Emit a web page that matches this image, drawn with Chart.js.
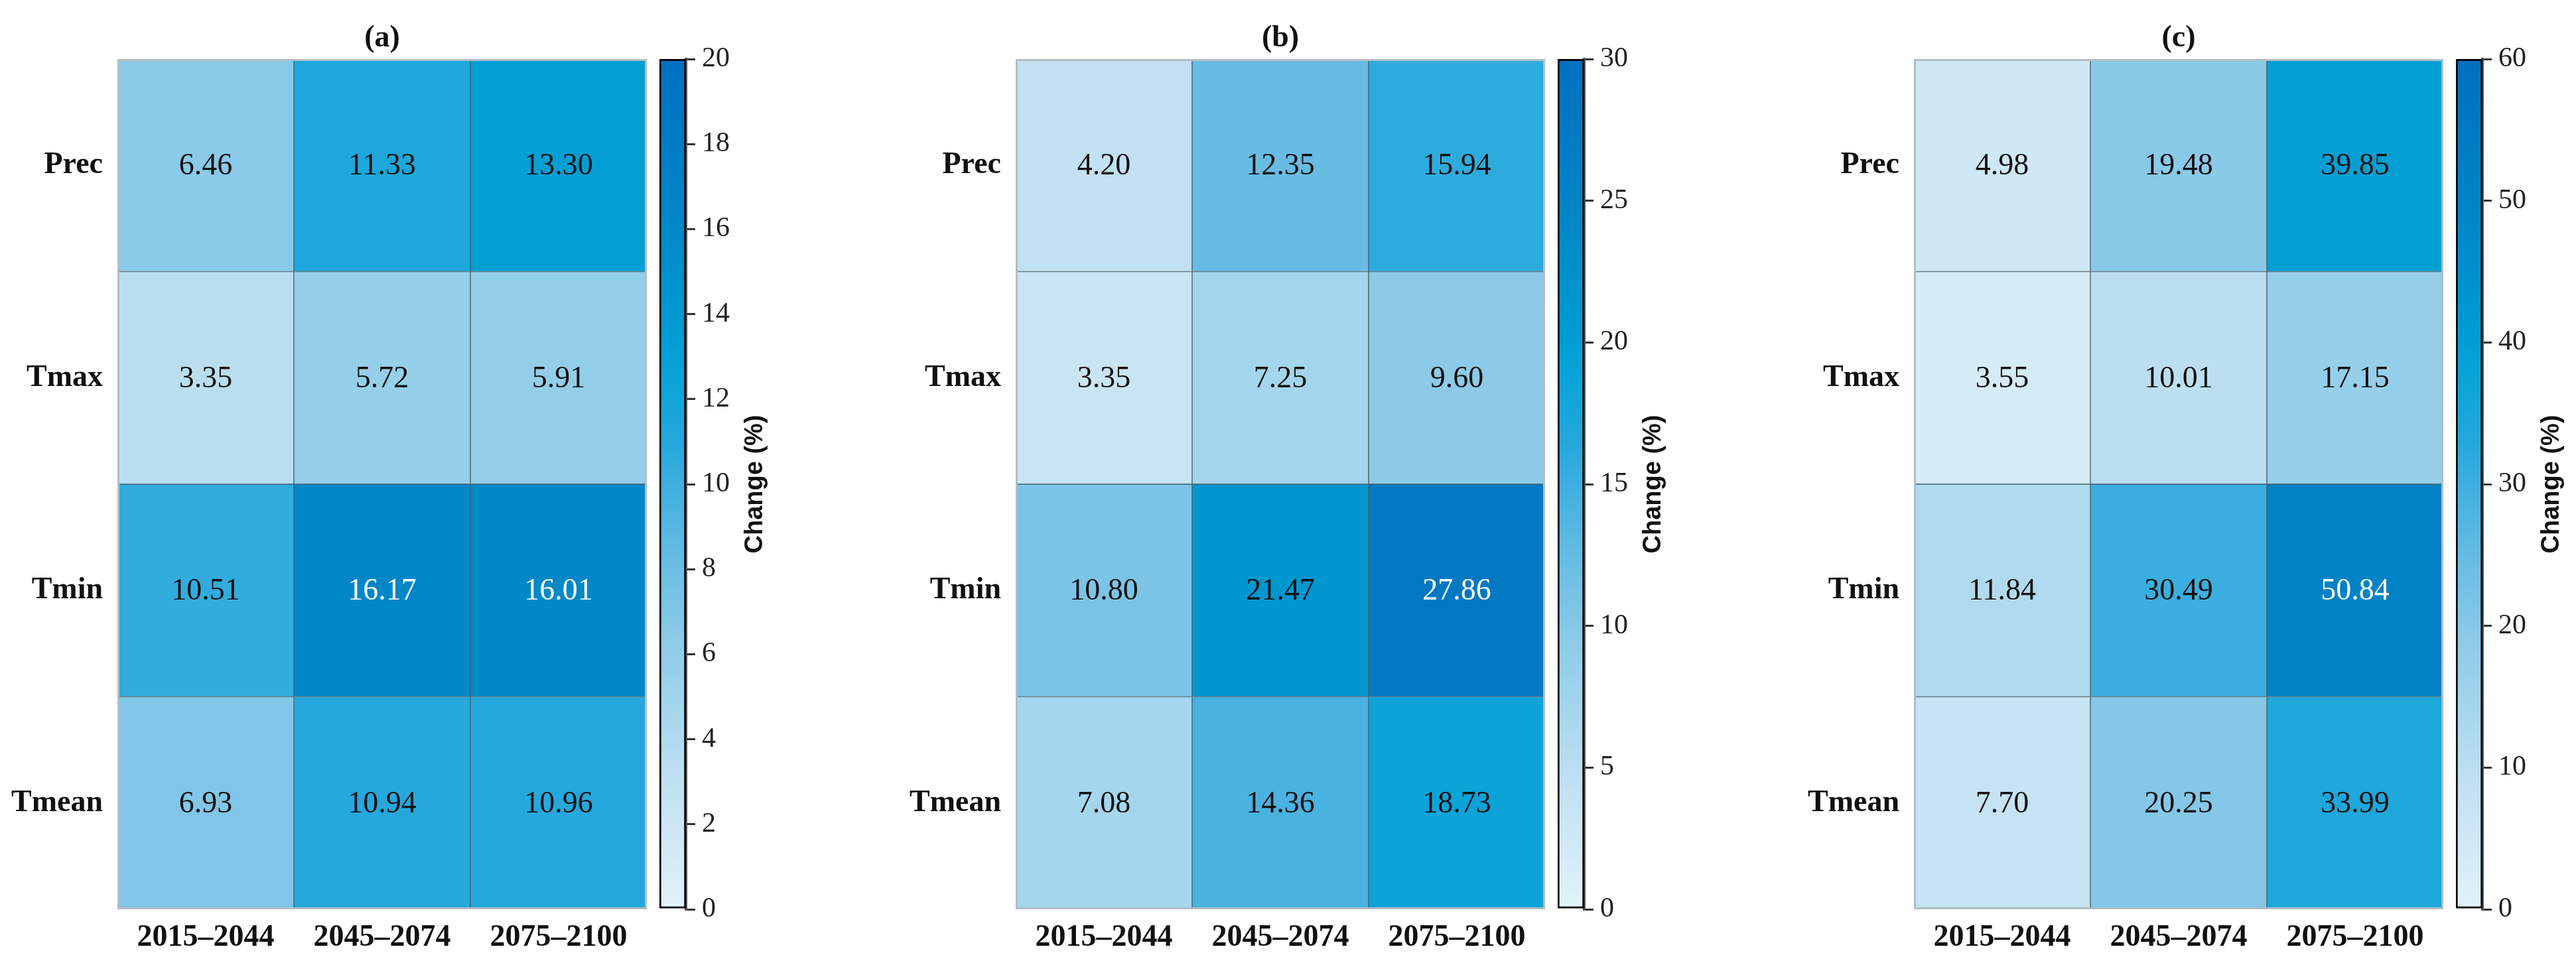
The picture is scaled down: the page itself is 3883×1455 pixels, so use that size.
<!DOCTYPE html>
<html lang="en">
<head>
<meta charset="UTF-8">
<title>Projected change heatmaps</title>
<script src="https://cdn.jsdelivr.net/npm/chart.js"></script>
<style>
  html, body { margin: 0; padding: 0; background: #fff; overflow: hidden; }
  body { width: 3883px; height: 1455px; position: relative; }
  canvas { position: absolute; top: 0; }
</style>
</head>
<body>
<canvas id="heat0" width="990" height="1455" style="left:0px"></canvas>
<canvas id="bar0" width="190" height="1455" style="left:990px"></canvas>
<canvas id="heat1" width="990" height="1455" style="left:1354px"></canvas>
<canvas id="bar1" width="190" height="1455" style="left:2344px"></canvas>
<canvas id="heat2" width="990" height="1455" style="left:2708px"></canvas>
<canvas id="bar2" width="190" height="1455" style="left:3698px"></canvas>

<script>
    const periods = ['2015–2044', '2045–2074', '2075–2100'];
    const variables = ['Prec', 'Tmax', 'Tmin', 'Tmean'];

    // rows follow variables, columns follow periods
    const panelA = [[6.46, 11.33, 13.30], [3.35, 5.72, 5.91], [10.51, 16.17, 16.01], [6.93, 10.94, 10.96]];
    const panelB = [[4.20, 12.35, 15.94], [3.35, 7.25, 9.60], [10.80, 21.47, 27.86], [7.08, 14.36, 18.73]];
    const panelC = [[4.98, 19.48, 39.85], [3.55, 10.01, 17.15], [11.84, 30.49, 50.84], [7.70, 20.25, 33.99]];

    const panelTitles = ['(a)', '(b)', '(c)'];
    const colorMax = [20, 30, 60];
    const colorStep = [2, 5, 10];

    // blue colormap, light at 0 to dark at max
    const stops = [
        [0.00, [226, 242, 250]],
        [0.15, [192, 224, 241]],
        [0.25, [160, 212, 236]],
        [0.32, [140, 202, 232]],
        [0.40, [108, 190, 228]],
        [0.48, [72, 178, 224]],
        [0.55, [36, 168, 220]],
        [0.62, [12, 164, 216]],
        [0.67, [0, 158, 212]],
        [0.80, [0, 136, 200]],
        [1.00, [0, 112, 190]]
    ];

    function colorAt(t) {
        t = Math.max(0, Math.min(1, t));
        for (let i = 1; i < stops.length; i++) {
            if (t <= stops[i][0]) {
                const [t0, c0] = stops[i - 1];
                const [t1, c1] = stops[i];
                const f = (t - t0) / (t1 - t0);
                const c = c0.map((v, k) => Math.round(v + (c1[k] - v) * f));
                return `rgb(${c[0]}, ${c[1]}, ${c[2]})`;
            }
        }
        return 'rgb(0, 112, 190)';
    }

    const serif = 'Liberation Serif';

    function makeHeatmap(id, values, title, max) {
        const labelsPlugin = {
            id: 'cellLabels',
            afterDatasetsDraw(chart) {
                const ctx = chart.ctx;
                const area = chart.chartArea;
                ctx.save();
                // light outer frame
                ctx.strokeStyle = '#b3bdc4';
                ctx.lineWidth = 3;
                ctx.strokeRect(area.left + 1.5, area.top + 1.5, area.right - area.left - 3, area.bottom - area.top - 3);

                ctx.font = `46px "${serif}"`;
                ctx.textAlign = 'center';
                ctx.textBaseline = 'middle';
                chart.data.datasets.forEach((ds, r) => {
                    chart.getDatasetMeta(r).data.forEach((bar, j) => {
                        const v = values[r][j];
                        ctx.fillStyle = v / max > 0.75 ? '#ffffff' : '#111111';
                        ctx.fillText(v.toFixed(2), bar.x, (bar.y + bar.base) / 2 + 2);
                    });
                });

                ctx.fillStyle = '#111';
                ctx.font = `bold 46px "${serif}"`;
                ctx.fillText(title, (area.left + area.right) / 2, 58);
                ctx.restore();
            }
        };

        new Chart(document.getElementById(id), {
            type: 'bar',
            data: {
                labels: periods,
                datasets: variables.map((name, r) => ({
                    label: name,
                    data: periods.map(() => [r, r + 1]),
                    backgroundColor: values[r].map(v => colorAt(v / max)),
                    borderColor: '#46606e',
                    borderWidth: 1,
                    borderSkipped: false,
                    barPercentage: 1,
                    categoryPercentage: 1,
                    grouped: false
                }))
            },
            options: {
                responsive: false,
                devicePixelRatio: 1,
                animation: false,
                layout: { padding: { top: 89, right: 15 } },
                plugins: { legend: { display: false }, tooltip: { enabled: false } },
                scales: {
                    x: {
                        grid: { display: false },
                        border: { display: false },
                        ticks: { font: { family: serif, size: 46, weight: 'bold' }, color: '#111', padding: 8 },
                        afterFit: s => { s.height = 84; }
                    },
                    y: {
                        min: 0,
                        max: variables.length,
                        reverse: true,
                        grid: { display: false },
                        border: { display: false },
                        afterBuildTicks: s => { s.ticks = variables.map((_, i) => ({ value: i + 0.5 })); },
                        ticks: {
                            callback: v => variables[Math.floor(v)],
                            font: { family: serif, size: 46, weight: 'bold' },
                            color: '#111',
                            padding: 14
                        },
                        afterFit: s => { s.width = 177; }
                    }
                }
            },
            plugins: [labelsPlugin]
        });
    }

    function makeColorbar(id, max, step) {
        const titlePlugin = {
            id: 'barTitle',
            afterDraw(chart) {
                const ctx = chart.ctx;
                const area = chart.chartArea;
                ctx.save();
                ctx.translate(149, (area.top + area.bottom) / 2);
                ctx.rotate(-Math.PI / 2);
                ctx.font = 'bold 38px "Liberation Sans"';
                ctx.fillStyle = '#111';
                ctx.textAlign = 'center';
                ctx.textBaseline = 'middle';
                ctx.fillText('Change (%)', 0, 0);
                ctx.restore();
            }
        };

        new Chart(document.getElementById(id), {
            type: 'bar',
            data: {
                labels: [''],
                datasets: [{
                    data: [[0, max]],
                    backgroundColor: c => {
                        const area = c.chart.chartArea;
                        if (!area) return colorAt(0.5);
                        const g = c.chart.ctx.createLinearGradient(0, area.bottom, 0, area.top);
                        stops.forEach(([t]) => g.addColorStop(t, colorAt(t)));
                        return g;
                    },
                    borderColor: '#000',
                    borderWidth: 3,
                    borderSkipped: false,
                    barPercentage: 1,
                    categoryPercentage: 1
                }]
            },
            options: {
                responsive: false,
                devicePixelRatio: 1,
                animation: false,
                layout: { padding: { left: 4, top: 89, bottom: 84 } },
                plugins: { legend: { display: false }, tooltip: { enabled: false } },
                scales: {
                    x: { display: false },
                    y: {
                        position: 'right',
                        min: 0,
                        max: max,
                        grid: { drawOnChartArea: false, tickLength: 14, color: '#333', lineWidth: 3 },
                        border: { color: '#555', width: 4 },
                        ticks: { stepSize: step, font: { family: serif, size: 42 }, color: '#222', padding: 10 },
                        afterFit: s => { s.width = 146; }
                    }
                }
            },
            plugins: [titlePlugin]
        });
    }

    const panels = [panelA, panelB, panelC];
    panels.forEach((vals, p) => {
        makeHeatmap('heat' + p, vals, panelTitles[p], colorMax[p]);
        makeColorbar('bar' + p, colorMax[p], colorStep[p]);
    });
</script>
</body>
</html>
